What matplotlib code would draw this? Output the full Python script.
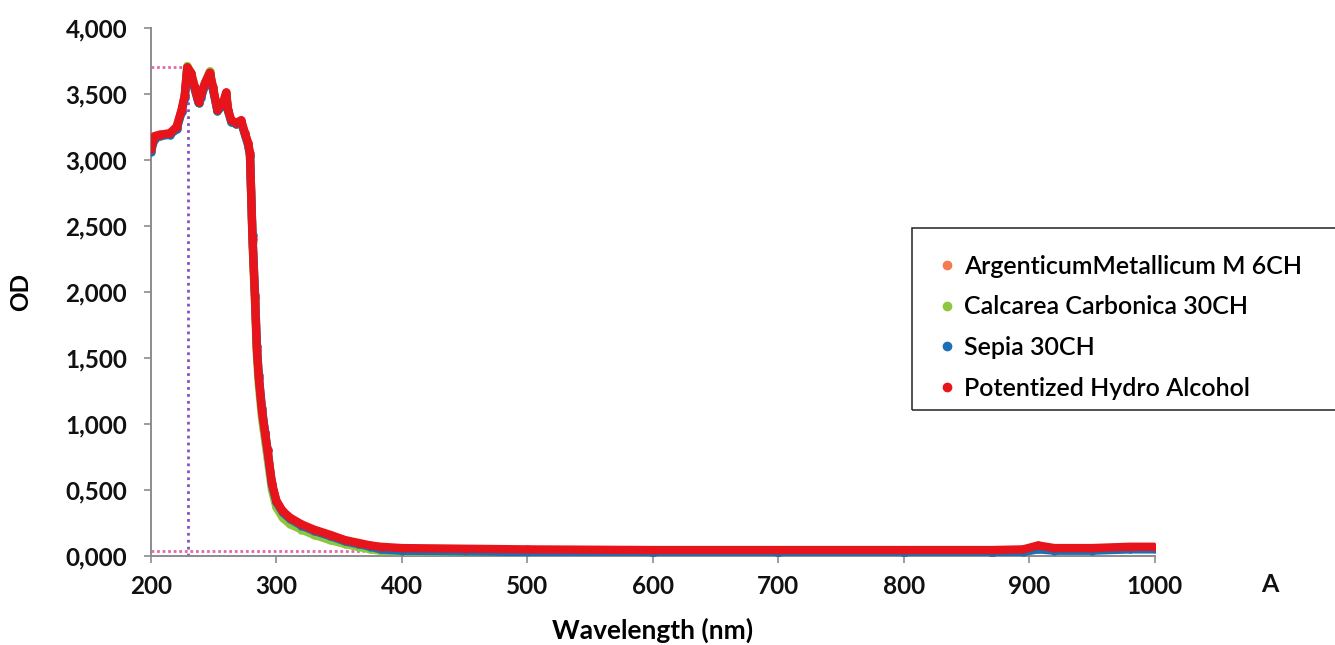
import numpy as np
import matplotlib.pyplot as plt
from matplotlib.ticker import FuncFormatter
from matplotlib.patches import Rectangle

plt.rcParams['font.family'] = ['Lato', 'DejaVu Sans']

# wavelength (nm) and OD
wl = [200, 203, 207, 215, 220.5, 224.5, 227, 229, 232, 235, 238, 240, 243, 247,
      249.5, 253, 257.5, 260, 261.5, 264, 268, 272, 275, 277.5, 279, 281, 283,
      284.5, 286, 288.5, 291, 293, 296.5, 300, 305, 311, 320, 330, 343, 355,
      365, 375, 383, 400, 450, 500, 600, 700, 800, 870, 895, 907, 920, 950,
      980, 1000]

od_red = [3.08, 3.18, 3.19, 3.20, 3.25, 3.38, 3.49, 3.70, 3.66, 3.55, 3.44, 3.49,
          3.58, 3.66, 3.55, 3.38, 3.43, 3.51, 3.38, 3.30, 3.28, 3.30, 3.20, 3.13,
          3.05, 2.40, 1.95, 1.56, 1.35, 1.10, 0.93, 0.80, 0.55, 0.42, 0.34, 0.29,
          0.24, 0.20, 0.16, 0.12, 0.10, 0.08, 0.07, 0.06, 0.055, 0.05, 0.045,
          0.045, 0.045, 0.045, 0.05, 0.08, 0.06, 0.06, 0.07, 0.07]

od_orange = [3.07, 3.17, 3.19, 3.20, 3.24, 3.37, 3.48, 3.69, 3.65, 3.54, 3.44, 3.48,
             3.57, 3.65, 3.54, 3.38, 3.42, 3.50, 3.38, 3.30, 3.27, 3.29, 3.20, 3.12,
             3.04, 2.42, 1.97, 1.58, 1.36, 1.11, 0.93, 0.79, 0.54, 0.41, 0.33, 0.28,
             0.23, 0.19, 0.15, 0.11, 0.09, 0.07, 0.06, 0.05, 0.045, 0.04, 0.04,
             0.04, 0.04, 0.04, 0.045, 0.07, 0.055, 0.055, 0.065, 0.065]

od_green = [3.07, 3.17, 3.18, 3.19, 3.24, 3.37, 3.48, 3.71, 3.66, 3.55, 3.43, 3.49,
            3.58, 3.67, 3.55, 3.37, 3.42, 3.50, 3.37, 3.29, 3.27, 3.29, 3.19, 3.12,
            3.03, 2.38, 1.92, 1.52, 1.30, 1.05, 0.88, 0.74, 0.50, 0.37, 0.29, 0.24,
            0.20, 0.16, 0.12, 0.09, 0.07, 0.05, 0.04, 0.035, 0.03, 0.03, 0.03,
            0.03, 0.03, 0.03, 0.035, 0.06, 0.045, 0.045, 0.055, 0.06]

od_blue = [3.06, 3.16, 3.18, 3.19, 3.23, 3.36, 3.47, 3.68, 3.64, 3.53, 3.43, 3.47,
           3.56, 3.64, 3.53, 3.37, 3.41, 3.49, 3.37, 3.29, 3.27, 3.28, 3.19, 3.11,
           3.03, 2.43, 1.98, 1.59, 1.37, 1.12, 0.94, 0.80, 0.54, 0.41, 0.33, 0.28,
           0.23, 0.19, 0.15, 0.11, 0.09, 0.07, 0.05, 0.04, 0.035, 0.03, 0.025,
           0.025, 0.025, 0.025, 0.03, 0.05, 0.04, 0.04, 0.05, 0.05]

series = ['ArgenticumMetallicum M 6CH', 'Calcarea Carbonica 30CH',
          'Sepia 30CH', 'Potentized Hydro Alcohol']
colors = ['#f47a50', '#8dc63f', '#1b6fb5', '#e8141c']
values = [od_orange, od_green, od_blue, od_red]

W, H = 1335, 645
fig = plt.figure(figsize=(W / 100, H / 100), dpi=100)
ax = fig.add_axes([0.113, 0.138, 0.752, 0.819])

# reference lines at the peak
ax.plot([200, 229.5], [3.70, 3.70], ls=(0, (1, 1)), color='#e36ba5', lw=2, zorder=1)
ax.plot([229.5, 229.5], [0, 3.62], ls=(0, (1, 1.5)), color='#8a4fc0', lw=2, zorder=1)
ax.plot([200, 370], [0.04, 0.04], ls=(0, (1, 1)), color='#e36ba5', lw=2, zorder=1)

for name, c, v in zip(series, colors, values):
    ax.plot(wl, v, color=c, lw=6, solid_capstyle='round', solid_joinstyle='round',
            marker='o', ms=5, label=name, zorder=3)

ax.set_xlim(200, 1000)
ax.set_ylim(0, 4)
ax.set_xticks(np.arange(200, 1001, 100))
ax.set_yticks(np.arange(0, 4.01, 0.5))
ax.yaxis.set_major_formatter(FuncFormatter(lambda v, p: '{:.3f}'.format(v).replace('.', ',')))

for s in ['top', 'right']:
    ax.spines[s].set_visible(False)
for s in ['left', 'bottom']:
    ax.spines[s].set_color('#8c8c8c')
    ax.spines[s].set_linewidth(1.4)
ax.tick_params(axis='both', colors='#8c8c8c', length=5, width=1.2)
ax.tick_params(axis='x', labelsize=17.5, labelcolor='#111111', pad=9)
ax.tick_params(axis='y', labelsize=17.5, labelcolor='#111111', pad=12)
for lab in ax.get_xticklabels() + ax.get_yticklabels():
    lab.set_fontweight('bold')

ax.set_xlabel('Wavelength (nm)', fontsize=19, fontweight='bold', labelpad=14)
ax.set_ylabel('OD', fontsize=17.5, fontweight='bold', labelpad=24)
fig.text(1270 / W, 1 - 585 / H, 'A', fontsize=18, fontweight='bold',
         ha='center', va='center', color='#111111')

# legend box drawn by hand so it runs off the right edge like the original
fig.patches.append(Rectangle((912 / W, 1 - 410 / H), 440 / W, 182 / H,
                             transform=fig.transFigure, fill=False,
                             edgecolor='#333333', lw=1.2))
handles = [plt.Line2D([], [], ls='', marker='o', ms=6, color=c) for c in colors]
leg = fig.legend(handles, series, loc='upper left',
                 bbox_to_anchor=(934 / W, 1 - 255 / H), fontsize=18,
                 frameon=False, handletextpad=0.2, handlelength=1.0,
                 labelspacing=0.7, borderpad=0, borderaxespad=0)
for t in leg.get_texts():
    t.set_fontweight('semibold')

fig.savefig('out.png', dpi=100)
